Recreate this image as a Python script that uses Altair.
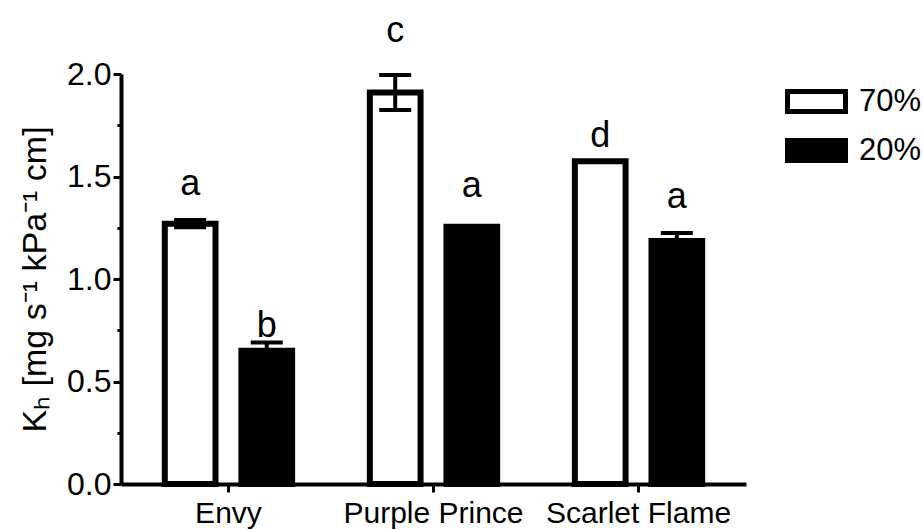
import altair as alt
import pandas as pd

cultivars = ["Envy", "Purple Prince", "Scarlet Flame"]
humidity = ["70%", "20%"]
kh_70 = [1.27, 1.91, 1.575]
kh_20 = [0.65, 1.255, 1.185]
sem_70 = [0.018, 0.085, 0.0]
sem_20 = [0.04, 0.0, 0.04]
letters_70 = ["a", "c", "d"]
letters_20 = ["b", "a", "a"]
letter_y_70 = [1.41, 2.156, 1.644]
letter_y_20 = [0.717, 1.40, 1.346]
y_tick_values = [0.0, 0.125, 0.25, 0.375, 0.5, 0.625, 0.75, 0.875, 1.0,
                 1.125, 1.25, 1.375, 1.5, 1.625, 1.75, 1.875, 2.0]

rows = []
for i, c in enumerate(cultivars):
    rows.append(dict(cultivar=c, humidity="70%", kh=kh_70[i], sem=sem_70[i],
                     letter=letters_70[i], ly=letter_y_70[i]))
    rows.append(dict(cultivar=c, humidity="20%", kh=kh_20[i], sem=sem_20[i],
                     letter=letters_20[i], ly=letter_y_20[i]))
df = pd.DataFrame(rows)
df["lo"] = df["kh"] - df["sem"]
df["hi"] = df["kh"] + df["sem"]
df_err = df[df["sem"] > 0]

FONT = "Liberation Sans"

x_enc = alt.X(
    "cultivar:N", sort=cultivars,
    scale=alt.Scale(paddingInner=0.379, paddingOuter=0.2136),
    axis=alt.Axis(title=None, labelAngle=0, labelFontSize=30, labelFont=FONT,
                  labelColor="black", labelLimit=400, tickSize=8, tickWidth=3,
                  tickColor="black", labelPadding=6, domainWidth=4,
                  domainColor="black", grid=False),
)
xo_enc = alt.XOffset("humidity:N", sort=humidity,
                     scale=alt.Scale(paddingInner=0.338, paddingOuter=0))
y_scale = alt.Scale(domain=[0, 2], nice=False, zero=True)
y_axis = alt.Axis(
    title="Kₕ [mg s⁻¹ kPa⁻¹ cm]", titleFontSize=34, titleFont=FONT,
    titleFontWeight="normal", titleColor="black", titlePadding=14,
    values=y_tick_values,
    labelExpr="datum.value % 0.5 === 0 ? format(datum.value, '.1f') : ''",
    labelOverlap=False, labelFontSize=32, labelFont=FONT, labelColor="black",
    labelPadding=2,
    tickSize={"condition": {"test": "datum.value % 0.5 === 0", "value": 8}, "value": 4},
    tickWidth=3, tickColor="black", domainWidth=4, domainColor="black", grid=False,
)

bars = alt.Chart(df).mark_bar(stroke="black", strokeWidth=6).encode(
    x=x_enc,
    xOffset=xo_enc,
    y=alt.Y("kh:Q", scale=y_scale, axis=y_axis),
    fill=alt.Fill(
        "humidity:N", sort=humidity,
        scale=alt.Scale(domain=humidity, range=["white", "black"]),
        legend=alt.Legend(
            title=None, orient="none", legendX=680, legendY=12,
            symbolType="M-2.9,-1H2.9V1H-2.9Z", symbolSize=400,
            symbolStrokeColor="black", symbolStrokeWidth=5,
            labelFontSize=31, labelFont=FONT, labelColor="black",
            labelOffset=27, rowPadding=8, padding=0,
        ),
    ),
)

err = alt.Chart(df_err).mark_rule(color="black", strokeWidth=4).encode(
    x=alt.X("cultivar:N", sort=cultivars),
    xOffset=alt.XOffset("humidity:N", sort=humidity),
    y=alt.Y("lo:Q"),
    y2="hi:Q",
)
cap_hi = alt.Chart(df_err).mark_tick(color="black", thickness=4, size=32, opacity=1).encode(
    x=alt.X("cultivar:N", sort=cultivars),
    xOffset=alt.XOffset("humidity:N", sort=humidity),
    y=alt.Y("hi:Q"),
)
cap_lo = alt.Chart(df_err).mark_tick(color="black", thickness=4, size=32, opacity=1).encode(
    x=alt.X("cultivar:N", sort=cultivars),
    xOffset=alt.XOffset("humidity:N", sort=humidity),
    y=alt.Y("lo:Q"),
)
letters = alt.Chart(df).mark_text(fontSize=36, font=FONT, color="black",
                                  baseline="alphabetic", align="center").encode(
    x=alt.X("cultivar:N", sort=cultivars),
    xOffset=alt.XOffset("humidity:N", sort=humidity),
    y=alt.Y("ly:Q"),
    text="letter:N",
)

chart = alt.layer(bars, err, cap_hi, cap_lo, letters).properties(
    width=625, height=410,
    padding={"left": 121, "top": 74, "right": 177, "bottom": 46},
    autosize=alt.AutoSizeParams(type="none"),
    background="white",
).configure(font=FONT).configure_view(stroke=None)

chart.save("out.html", embed_options={"renderer": "svg", "actions": False})
